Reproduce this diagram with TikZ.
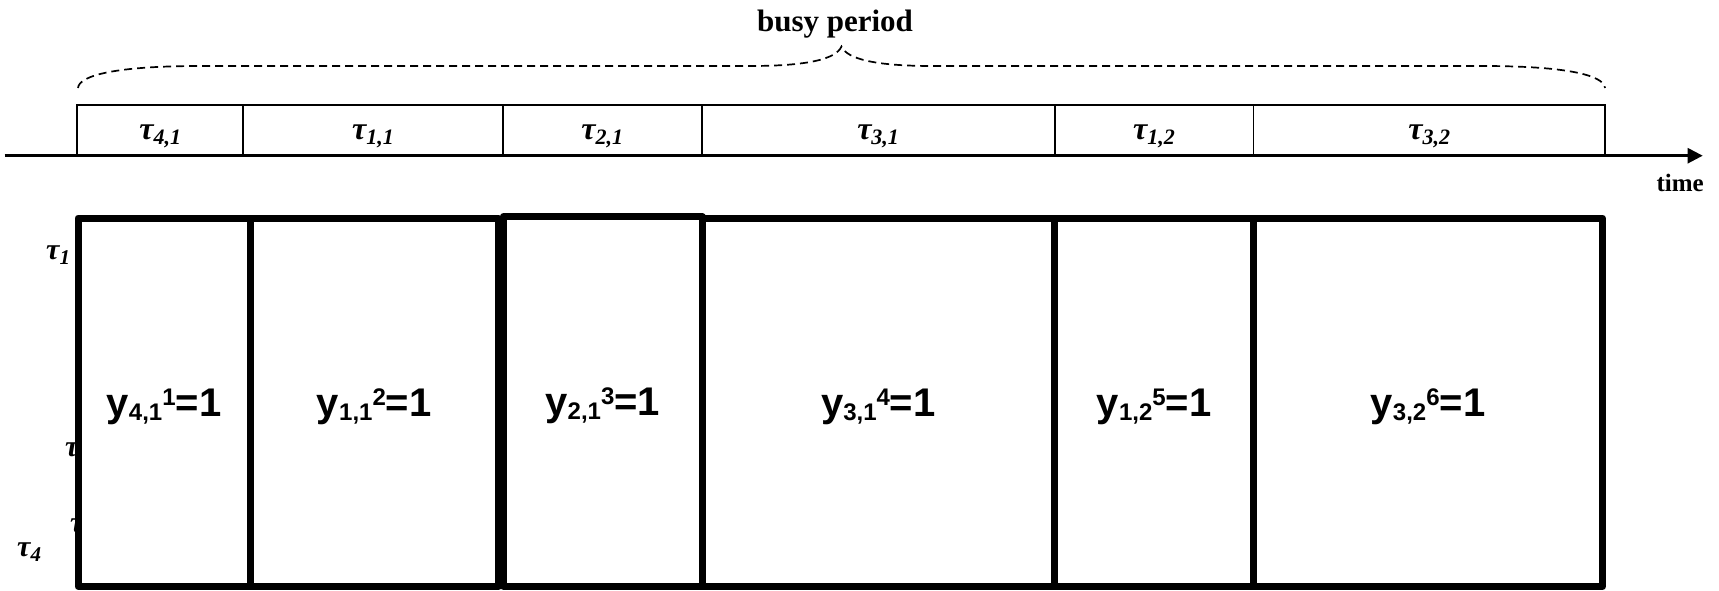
\documentclass[tikz,border=0pt]{standalone}
\usepackage{fontspec}
\setmainfont{Liberation Serif}
\newfontfamily\yfont{Liberation Sans}
\usetikzlibrary{arrows.meta}

% task labels: bold italic tau with subscript
\newcommand{\tlab}[1]{{\bfseries\itshape\fontsize{32}{32}\selectfont τ\raisebox{-5pt}{\fontsize{22}{22}\selectfont #1}}}
\newcommand{\sidelab}[1]{{\bfseries\itshape\fontsize{30}{30}\selectfont τ\raisebox{-5pt}{\fontsize{21}{21}\selectfont #1}}}
% assignment labels: y_{i,j}^k=1
\newcommand{\ylab}[2]{{\yfont\bfseries\fontsize{40}{40}\selectfont y\raisebox{-4pt}{\fontsize{24}{24}\selectfont #1}\raisebox{11pt}{\fontsize{24}{24}\selectfont #2}=1}}

\tikzset{
  slot/.style={draw, line width=1.8pt, minimum height=50.7pt, inner sep=0pt, outer sep=0pt, anchor=south west},
  slotlab/.style={anchor=base, inner sep=0pt, yshift=-9.5pt},
  job/.style={draw, fill=white, line width=7pt, line join=round, inner sep=0pt, outer sep=0pt, anchor=south west},
  joblab/.style={anchor=base, inner sep=0pt, yshift=-14pt},
  brace/.style={line width=1.7pt, dash pattern=on 8pt off 5pt},
  sidetau/.style={anchor=base west, inner sep=0pt},
}

\begin{document}
\begin{tikzpicture}[x=1pt, y=-1pt]
\useasboundingbox (0,0) rectangle (1719,590);
% Time axis
\coordinate (t0) at (4.6,155.7);
\coordinate (tend) at (1702.7,155.7);
% Task slots on the axis
\foreach \xa/\xb/\lab [count=\k] in {77.3/243/{4,1}, 243/503/{1,1}, 503/701.6/{2,1},
    701.6/1054.6/{3,1}, 1054.6/1253.5/{1,2}, 1253.5/1605/{3,2}} {
  \node[slot, minimum width={(\xb-\xa)*1pt}] (top\k) at (\xa,155.7) {};
  \node[slotlab] (tl\k) at (top\k.center) {\tlab{\lab}};
}
\draw[line width=2.5pt, -{Triangle[length=15pt, width=15pt]}] (t0) -- (tend);
\node[anchor=base east, inner sep=0pt, font={\bfseries\fontsize{25}{25}\selectfont}] (time) at (1704,191.7) {time};
% Busy period brace
\coordinate (bl) at (78,88);
\coordinate (tip) at (841.5,46.5);
\coordinate (br) at (1605,88);
\draw[brace] (bl) .. controls (79,75) and (118,66) .. (200,66) -- (750,66)
  .. controls (808,66) and (836,59) .. (tip)
  .. controls (847,59) and (875,66) .. (933,66) -- (1483,66)
  .. controls (1565,66) and (1604,75) .. (br);
\node[anchor=base, inner sep=0pt, font={\bfseries\fontsize{31}{31}\selectfont}] (busy) at (835,31.7) {busy period};
% Task axis labels (partly hidden behind the boxes)
\node[sidetau] (s1) at (46,259) {\sidelab{1}};
\node[sidetau] (s2) at (65,456.7) {\sidelab{2}};
\node[sidetau] (s3) at (70,532) {\sidelab{3}};
\node[sidetau] (s4) at (17,556) {\sidelab{4}};
% Position variables
\foreach \xa/\xb/\ya/\lab/\pos [count=\k] in {78/250/218/{4,1}/1, 250/498.5/218/{1,1}/2,
    503.5/702/216.5/{2,1}/3, 702/1054.6/218/{3,1}/4, 1054.6/1253.5/218/{1,2}/5,
    1253.5/1602.5/218/{3,2}/6} {
  \node[job, minimum width={(\xb-\xa)*1pt}, minimum height={(586.5-\ya)*1pt}] (job\k) at (\xa,586.5) {};
  \node[joblab] (yl\k) at (job\k.center) {\ylab{\lab}{\pos}};
}
\end{tikzpicture}
\end{document}
